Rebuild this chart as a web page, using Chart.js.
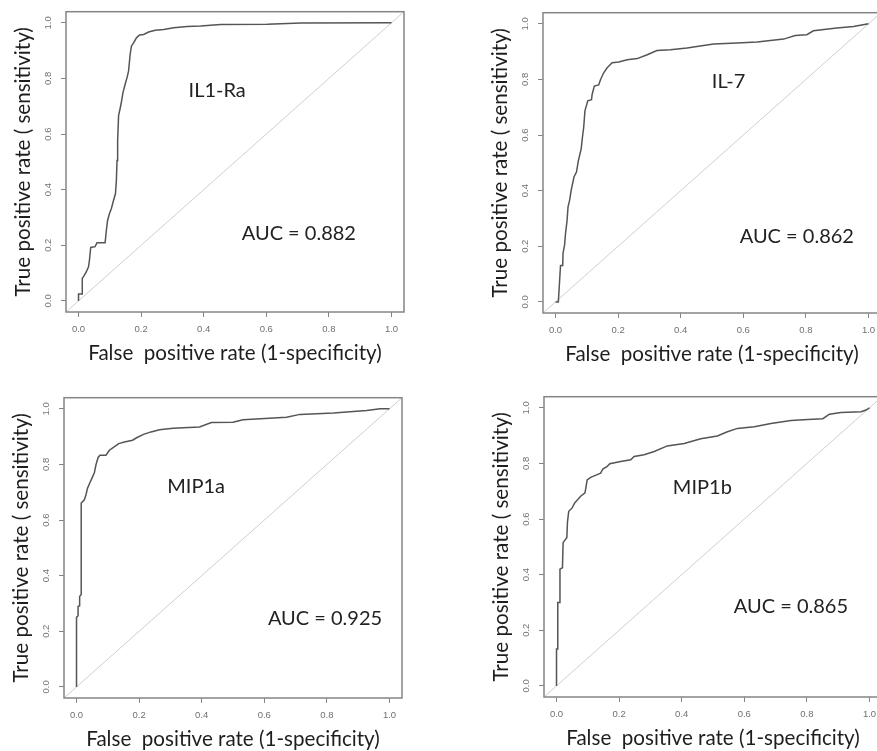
<!DOCTYPE html>
<html lang="en">
<head>
<meta charset="UTF-8">
<title>ROC curves</title>
<script src="https://cdn.jsdelivr.net/npm/chart.js@4"></script>
<style>
  html, body { margin: 0; padding: 0; background: #fff; overflow: hidden; width: 877px; height: 751px; position: relative; }
  canvas { position: absolute; }
</style>
</head>
<body>
<canvas id="rocIL1Ra" width="440" height="372" style="left:0px;top:0px"></canvas>
<canvas id="rocIL7" width="440" height="372" style="left:477px;top:1px"></canvas>
<canvas id="rocMIP1a" width="440" height="372" style="left:-2px;top:386px"></canvas>
<canvas id="rocMIP1b" width="440" height="372" style="left:478px;top:385px"></canvas>

<script>
// tick labels shared by both axes of every panel
const tickValues = [0, 0.2, 0.4, 0.6, 0.8, 1.0];
// reference diagonal (spans the whole plot region, like abline)
const diagX = [-0.04, 1.04];
const diagY = [-0.04, 1.04];

// IL1-Ra
const il1raFpr = [0, 0, 0.012, 0.012, 0.016, 0.025, 0.032, 0.035, 0.039, 0.053, 0.059, 0.085, 0.089, 0.093, 0.099, 0.105, 0.112, 0.118, 0.121, 0.123, 0.125, 0.128, 0.136, 0.142, 0.149, 0.155, 0.160, 0.165, 0.169, 0.176, 0.185, 0.195, 0.208, 0.224, 0.245, 0.272, 0.304, 0.347, 0.390, 0.454, 0.603, 0.710, 1.0];
const il1raTpr = [0, 0.025, 0.025, 0.081, 0.087, 0.105, 0.123, 0.147, 0.192, 0.195, 0.209, 0.209, 0.254, 0.290, 0.314, 0.332, 0.362, 0.385, 0.433, 0.505, 0.576, 0.666, 0.708, 0.749, 0.779, 0.803, 0.827, 0.887, 0.916, 0.928, 0.946, 0.956, 0.958, 0.967, 0.973, 0.976, 0.982, 0.987, 0.989, 0.994, 0.995, 0.999, 1.0];

// IL-7
const il7Fpr = [0, 0.009, 0.012, 0.016, 0.023, 0.024, 0.029, 0.032, 0.037, 0.040, 0.045, 0.050, 0.059, 0.067, 0.073, 0.082, 0.086, 0.090, 0.094, 0.103, 0.115, 0.117, 0.124, 0.138, 0.144, 0.154, 0.165, 0.181, 0.202, 0.229, 0.261, 0.293, 0.324, 0.367, 0.420, 0.505, 0.580, 0.644, 0.729, 0.766, 0.803, 0.824, 0.899, 0.952, 1.0];
const il7Tpr = [0, 0, 0.056, 0.131, 0.131, 0.175, 0.205, 0.246, 0.294, 0.342, 0.365, 0.401, 0.449, 0.467, 0.508, 0.550, 0.592, 0.627, 0.687, 0.723, 0.727, 0.746, 0.776, 0.780, 0.800, 0.824, 0.842, 0.860, 0.863, 0.871, 0.875, 0.889, 0.904, 0.907, 0.913, 0.927, 0.931, 0.935, 0.945, 0.958, 0.961, 0.975, 0.985, 0.990, 1.0];

// MIP1a
const mip1aFpr = [0, 0, 0.005, 0.005, 0.010, 0.010, 0.015, 0.015, 0.025, 0.030, 0.035, 0.043, 0.049, 0.057, 0.062, 0.069, 0.075, 0.094, 0.105, 0.118, 0.135, 0.153, 0.179, 0.192, 0.214, 0.238, 0.265, 0.308, 0.393, 0.431, 0.500, 0.532, 0.671, 0.714, 0.821, 0.927, 0.970, 1.0];
const mip1aTpr = [0, 0.25, 0.256, 0.289, 0.292, 0.325, 0.332, 0.661, 0.673, 0.690, 0.714, 0.735, 0.750, 0.770, 0.798, 0.825, 0.833, 0.833, 0.851, 0.861, 0.875, 0.881, 0.887, 0.896, 0.908, 0.917, 0.925, 0.930, 0.935, 0.951, 0.952, 0.961, 0.970, 0.980, 0.985, 0.994, 1.0, 1.0];

// MIP1b
const mip1bFpr = [0, 0, 0.004, 0.004, 0.011, 0.011, 0.019, 0.021, 0.030, 0.033, 0.035, 0.039, 0.050, 0.058, 0.068, 0.077, 0.091, 0.098, 0.109, 0.128, 0.141, 0.148, 0.162, 0.170, 0.205, 0.237, 0.248, 0.280, 0.312, 0.354, 0.408, 0.461, 0.514, 0.546, 0.578, 0.632, 0.685, 0.749, 0.803, 0.851, 0.872, 0.909, 0.973, 0.989, 1.0];
const mip1bTpr = [0, 0.133, 0.133, 0.300, 0.300, 0.420, 0.425, 0.515, 0.529, 0.533, 0.589, 0.628, 0.640, 0.658, 0.670, 0.682, 0.694, 0.741, 0.750, 0.759, 0.765, 0.780, 0.789, 0.799, 0.807, 0.813, 0.825, 0.831, 0.843, 0.863, 0.872, 0.889, 0.899, 0.914, 0.926, 0.932, 0.944, 0.954, 0.958, 0.961, 0.977, 0.983, 0.986, 0.992, 1.0];

const pairs = (xs, ys) => xs.map((v, i) => ({ x: v, y: ys[i] }));

// box around the plot region + in-plot labels
const panelExtras = {
    id: 'panelExtras',
    afterDatasetsDraw(chart, args, opts) {
        const { ctx, chartArea: a, scales: { x, y } } = chart;
        ctx.save();
        ctx.strokeStyle = '#858585';
        ctx.lineWidth = 1.5;
        ctx.strokeRect(a.left, a.top, a.right - a.left, a.bottom - a.top);
        ctx.fillStyle = '#222';
        ctx.font = '20px Lato';
        ctx.textAlign = 'center';
        ctx.textBaseline = 'middle';
        (opts.notes || []).forEach(n => {
            ctx.fillText(n.text, x.getPixelForValue(n.x), y.getPixelForValue(n.y));
        });
        ctx.restore();
    }
};

function axis(titleText, isY) {
    return {
        type: 'linear',
        min: -0.04,
        max: 1.04,
        afterBuildTicks: s => { s.ticks = tickValues.map(v => ({ value: v })); },
        afterFit: s => { if (isY) s.width = 66; else s.height = 60; },
        grid: { drawOnChartArea: false, drawTicks: true, tickLength: 5, color: '#858585', lineWidth: 1 },
        border: { display: false },
        ticks: {
            callback: v => Number(v).toFixed(1),
            font: { family: 'Liberation Sans', size: 9.5 },
            color: '#707070',
            padding: isY ? 6 : 7,
            autoSkip: false,
            minRotation: isY ? 90 : 0,
            maxRotation: isY ? 90 : 0,
            crossAlign: isY ? 'center' : 'near'
        },
        title: {
            display: true,
            text: titleText,
            color: '#1e1e1e',
            font: { family: 'Lato', size: 20.6 },
            padding: isY ? { top: 11, bottom: 0 } : { top: 0, bottom: 6 }
        }
    };
}

function rocChart(id, fpr, tpr, notes) {
    new Chart(document.getElementById(id), {
        type: 'line',
        data: {
            datasets: [
                { data: pairs(fpr, tpr), borderColor: '#555', borderWidth: 1.5, pointRadius: 0, tension: 0, fill: false },
                { data: pairs(diagX, diagY), borderColor: '#cfcfcf', borderWidth: 1, pointRadius: 0, fill: false }
            ]
        },
        options: {
            responsive: false,
            animation: false,
            devicePixelRatio: 1,
            layout: { padding: { top: 11, right: 36, left: 0, bottom: 0 } },
            plugins: {
                legend: { display: false },
                tooltip: { enabled: false },
                panelExtras: { notes: notes }
            },
            scales: {
                x: axis('False  positive rate (1-specificity)', false),
                y: axis('True positive rate ( sensitivity)', true)
            }
        },
        plugins: [panelExtras]
    });
}

rocChart('rocIL1Ra', il1raFpr, il1raTpr, [
    { text: 'IL1-Ra', x: 0.443, y: 0.755 },
    { text: 'AUC = 0.882', x: 0.704, y: 0.242 }
]);
rocChart('rocIL7', il7Fpr, il7Tpr, [
    { text: 'IL-7', x: 0.553, y: 0.794 },
    { text: 'AUC = 0.862', x: 0.771, y: 0.235 }
]);
rocChart('rocMIP1a', mip1aFpr, mip1aTpr, [
    { text: 'MIP1a', x: 0.382, y: 0.720 },
    { text: 'AUC = 0.925', x: 0.794, y: 0.246 }
]);
rocChart('rocMIP1b', mip1bFpr, mip1bTpr, [
    { text: 'MIP1b', x: 0.466, y: 0.712 },
    { text: 'AUC = 0.865', x: 0.749, y: 0.286 }
]);
</script>
</body>
</html>
